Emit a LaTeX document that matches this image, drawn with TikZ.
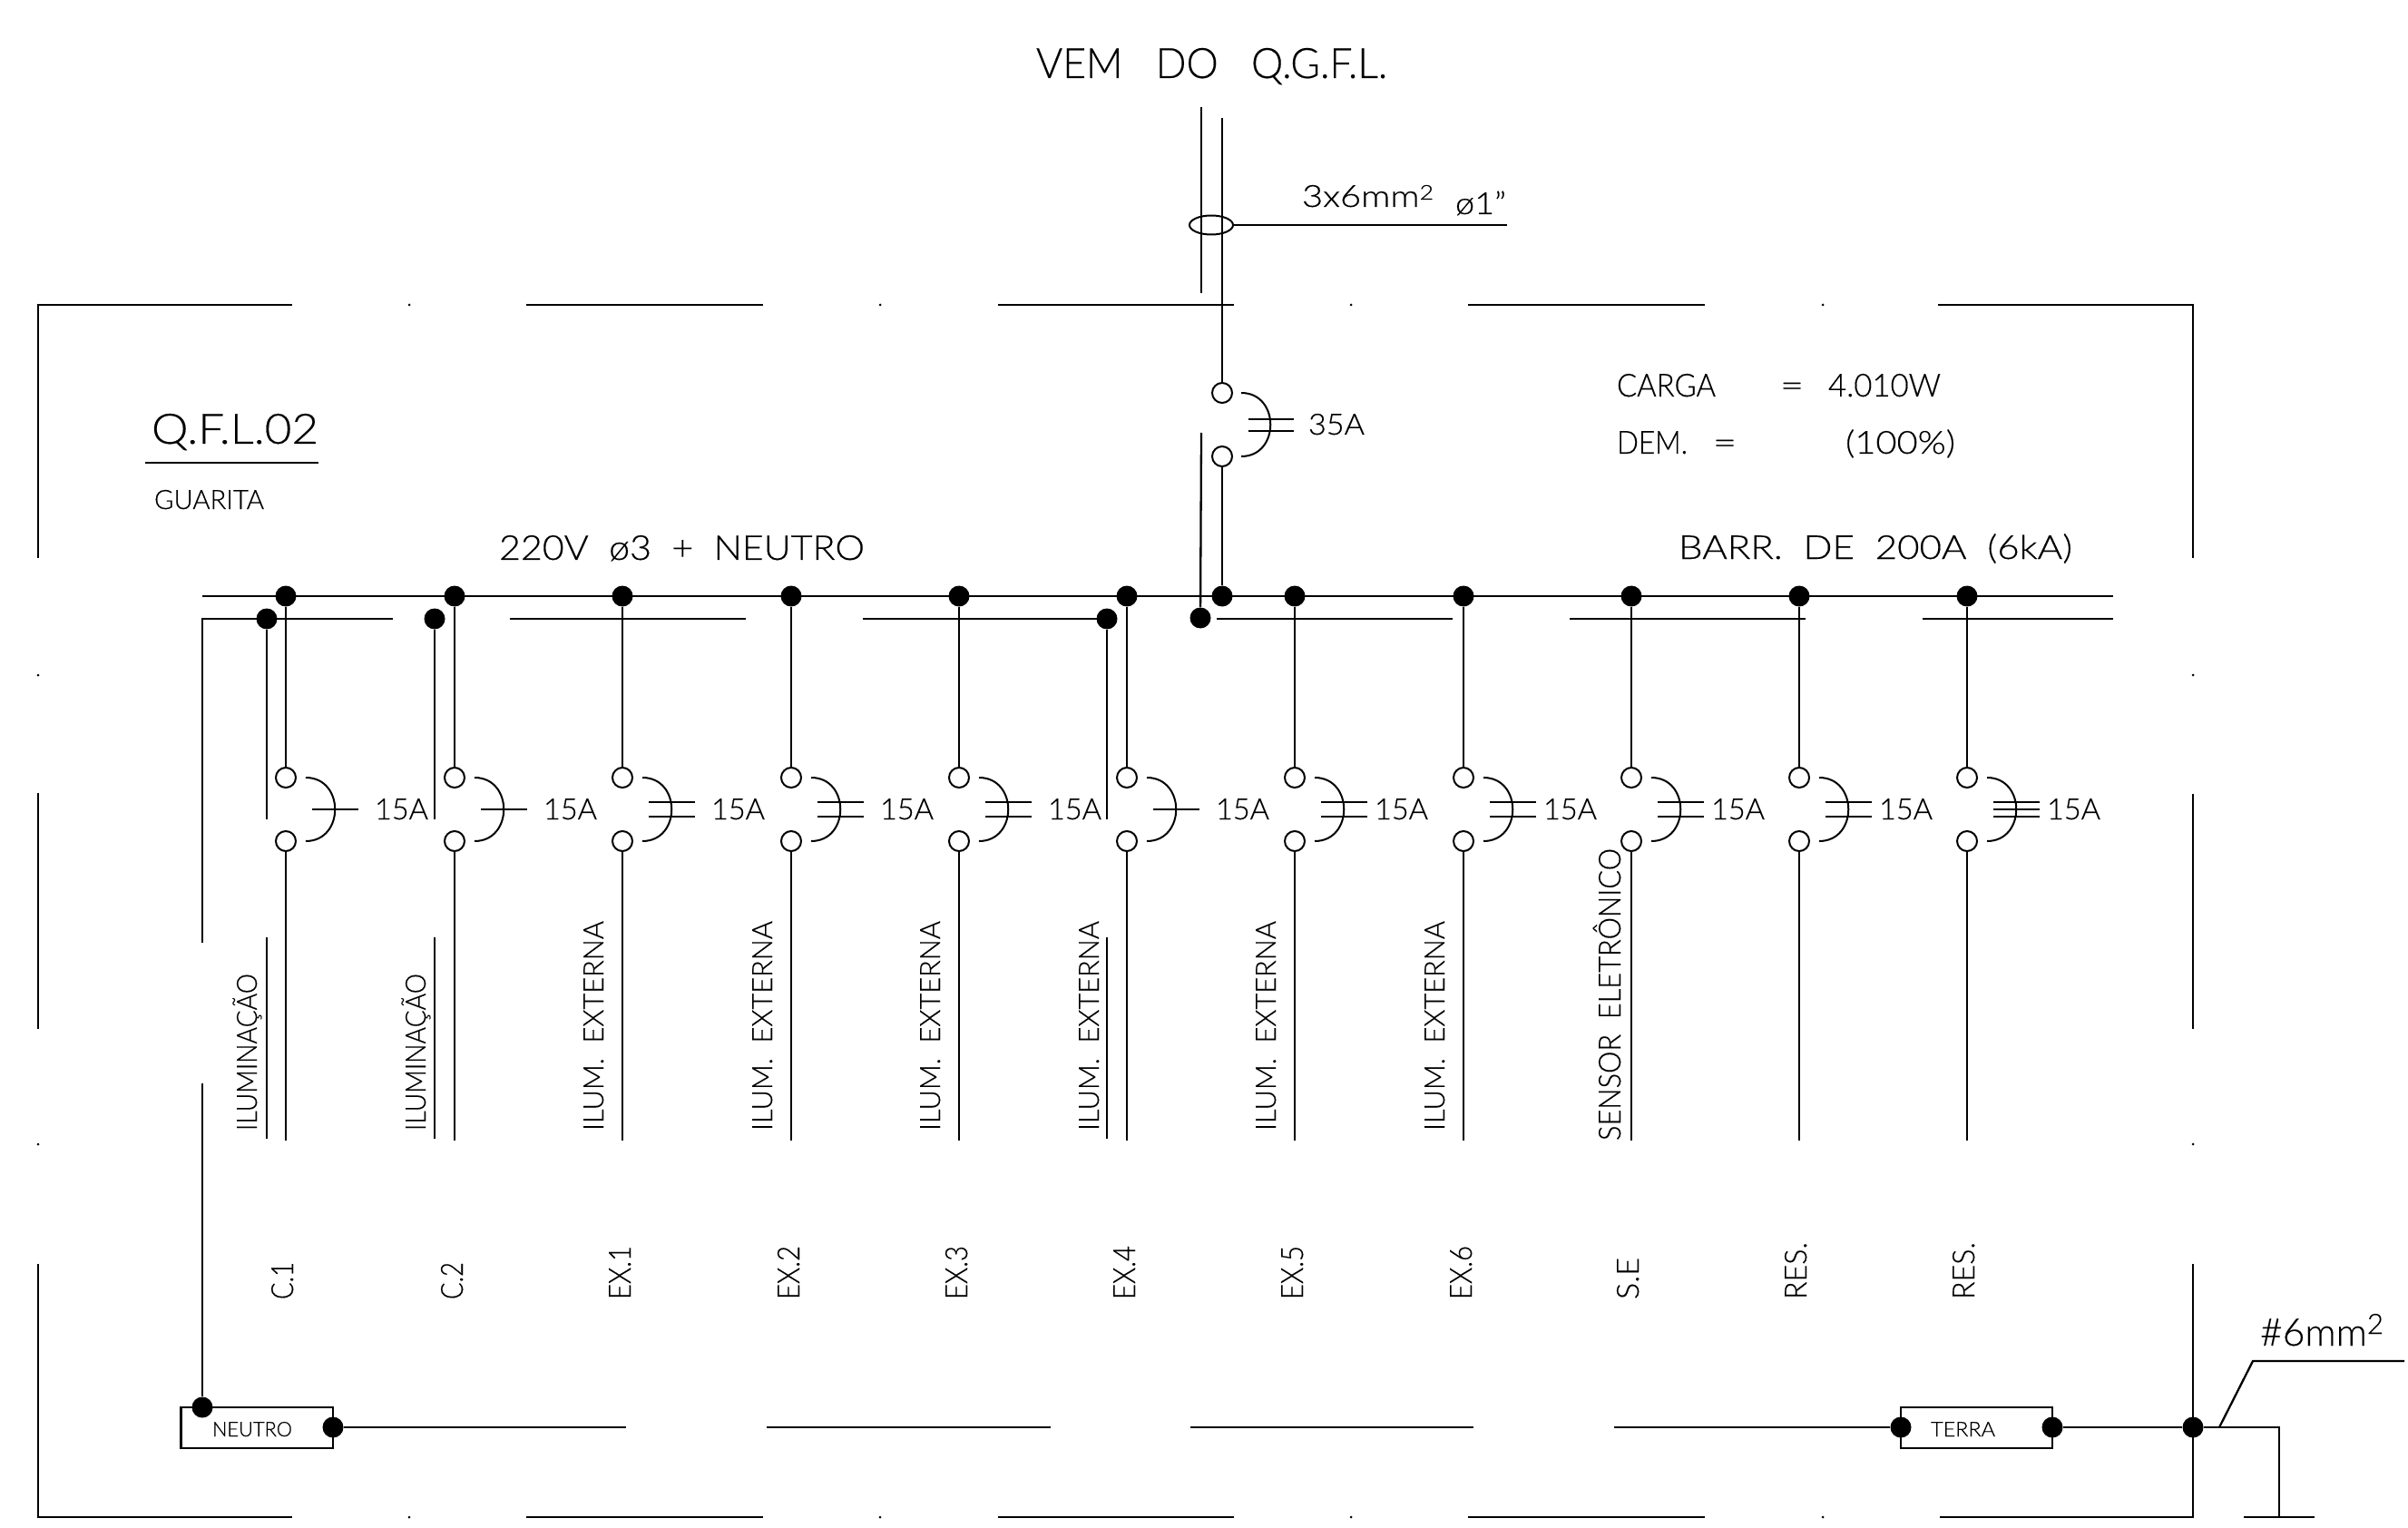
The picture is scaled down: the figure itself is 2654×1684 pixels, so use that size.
\documentclass[tikz,border=0pt]{standalone}
\usepackage{fontspec}
\usepackage{graphicx}
\usetikzlibrary{shapes.geometric}
\setmainfont{Lato Light}[FakeBold=0.35]
\newlength\pxu \setlength\pxu{0.5pt}
\newcommand\fw[3]{\pgfmathsetmacro\fsz{#1*0.70}\fontsize{\fsz}{\fsz}\selectfont\resizebox{#2\pxu}{\height}{#3}}
\newcommand\supr[2]{\raisebox{#2\pxu}{\pgfmathsetmacro\fsy{#1*0.70}\fontsize{\fsy}{\fsy}\selectfont 2}}
\tikzset{
  wire/.style={line width=1.15pt,black,line cap=butt},
  thin wire/.style={line width=1.0pt,black},
  busdot/.style={circle,fill=black,draw=none,inner sep=0pt,minimum size=11.5pt},
  term/.style={circle,draw=black,line width=1.0pt,fill=white,inner sep=0pt,minimum size=11pt},
  lab/.style={anchor=base west,inner sep=0pt,outer sep=0pt},
  vlab/.style={anchor=base west,inner sep=0pt,outer sep=0pt,rotate=90},
  tbox/.style={rectangle,draw=black,line width=1.15pt,inner sep=0pt,minimum width=83.75pt,minimum height=22.5pt},
  tick/.style={circle,fill=black,inner sep=0pt,minimum size=1.5pt}
}
\begin{document}
\begin{tikzpicture}[x=0.5pt,y=-0.5pt]
\useasboundingbox (0,0) rectangle (2654,1684);
% frame
\draw[wire] (322,336) -- (42,336) -- (42,615);
\draw[wire] (42,874) -- (42,1134);
\draw[wire] (42,1393) -- (42,1672) -- (322,1672);
\draw[wire] (2136,336) -- (2417,336) -- (2417,615);
\draw[wire] (2417,875) -- (2417,1134);
\draw[wire] (2417,1393) -- (2417,1672) -- (2138,1672);
\foreach \a/\b in {580/841,1100/1360,1618/1879}{
  \draw[wire] (\a,336) -- (\b,336);
  \draw[wire] (\a,1672) -- (\b,1672);
}
\foreach \i/\p in {1/451,2/970,3/1489,4/2009}{
  \node[tick] (ft\i) at (\p,336) {};
  \node[tick] (fb\i) at (\p,1672) {};
}
\node[tick] (fl1) at (42,744) {}; \node[tick] (fl2) at (42,1261) {};
\node[tick] (fr1) at (2417,744) {}; \node[tick] (fr2) at (2417,1261) {};
% busbars
\coordinate (pL) at (223,657); \coordinate (pR) at (2329,657);
\draw[wire] (pL) -- (pR);
\draw[wire] (433,682) -- (223,682) -- (223,1039);
\foreach \a/\b in {562/822,951/1220,1341/1601,1730/1990,2119/2329}{
  \draw[wire] (\a,682) -- (\b,682);
}
% branch breakers
\foreach \n/\x in {1/315,2/501,3/686,4/872,5/1057,6/1242,7/1427,8/1613,9/1798,10/1983,11/2168}{
  \node[busdot] (bus\n) at (\x,657) {};
  \node[term] (t\n) at (\x,857) {};
  \node[term] (b\n) at (\x,927) {};
  \coordinate (e\n) at (\x,1257);
  \draw[wire] (bus\n) -- (t\n);
  \draw[wire] (b\n) -- (e\n);
  \draw[thin wire] (\x+22,857) .. controls (\x+65,857) and (\x+65,927) .. (\x+22,927);
}
\foreach \x in {315,501,1242}{\draw[thin wire] (\x+29,892) -- (\x+80,892);}
\foreach \x in {686,872,1057,1427,1613,1798,1983,2168}{
  \draw[thin wire] (\x+29,884) -- (\x+80,884);
  \draw[thin wire] (\x+29,900) -- (\x+80,900);
}
\draw[thin wire] (2197,892) -- (2248,892);
% 15A
\foreach \x in {315,501,686,872,1057,1242}{\node[lab] at (\x+98,903) {\fw{23}{59}{15A}};}
\foreach \x in {1427,1613,1798,1983,2168}{\node[lab] at (\x+88,903) {\fw{23}{59}{15A}};}
% neutral branches
\foreach \n/\x in {n1/294,n2/479,n4/1220}{
  \node[busdot] (\n) at (\x,682) {};
  \coordinate (\n a) at (\x,903);
  \coordinate (\n b) at (\x,1033);
  \coordinate (\n c) at (\x,1255);
  \draw[wire] (\n) -- (\n a);
  \draw[wire] (\n b) -- (\n c);
}
% main breaker and feeder
\node[busdot] (mainbus) at (1347,657) {};
\node[busdot] (mainN) at (1323,681) {};
\node[term] (mt) at (1347,433) {};
\node[term] (mb) at (1347,503) {};
\coordinate (f1) at (1347,130); \coordinate (f2) at (1324,118);
\coordinate (f3) at (1324,323); \coordinate (f4) at (1324,477);
\draw[wire] (f1) -- (mt);
\draw[wire] (mb) -- (mainbus);
\draw[wire] (f2) -- (f3);
\draw[wire] (f4) -- (mainN);
\draw[thin wire] (1368,433) .. controls (1411,433) and (1411,503) .. (1368,503);
\draw[thin wire] (1376,462) -- (1426,462);
\draw[thin wire] (1376,475) -- (1426,475);
\node[lab] (t35) at (1442,479) {\fw{23}{62}{35A}};
\node[draw=black,line width=1pt,ellipse,inner sep=0pt,minimum width=24pt,minimum height=10.5pt] (cable) at (1335,248) {};
\coordinate (cableend) at (1661,248);
\draw[wire] (cable) -- (cableend);
% texts
\node[lab] at (1142,86) {\fw{33}{387}{VEM\ \ \ DO\ \ \ Q.G.F.L.}};
\node[lab] at (1435,228) {\fw{24}{145}{3x6mm\supr{16}{8}}};
\node[lab] at (1604,236) {\fw{24}{56}{ø1”}};
\node[lab] at (167,489) {\fw{33}{184}{Q.F.L.02}};
\coordinate (ulA) at (160,510); \coordinate (ulB) at (351,510);
\draw[wire] (ulA) -- (ulB);
\node[lab] at (170,561) {\fw{21}{121}{GUARITA}};
\node[lab] at (550,617) {\fw{27}{403}{220V\ \ ø3\ \ +\ \ NEUTRO}};
\node[lab] at (1850,616) {\fw{26}{434}{BARR.\ \ DE\ \ 200A\ \ (6kA)}};
\node[lab] at (1782,437) {\fw{25}{109}{CARGA}};
\node[lab] at (1962,437) {\fw{25}{26}{=}};
\node[lab] at (2015,437) {\fw{25}{124}{4.010W}};
\node[lab] at (1782,500) {\fw{25}{78}{DEM.}};
\node[lab] at (1888,500) {\fw{25}{26}{=}};
\node[lab] at (2034,500) {\fw{25}{121}{(100\%)}};
% vertical circuit descriptions
\foreach \x in {283,469}{\node[vlab] at (\x,1246) {\fw{22}{173}{ILUMINAÇÃO}};}
\foreach \x in {665,851,1036,1211,1406,1592}{\node[vlab] at (\x,1246) {\fw{22}{231}{ILUM.\ \ EXTERNA}};}
\node[vlab] at (1786,1257) {\fw{24}{322}{SENSOR\ \ ELETRÔNICO}};
% circuit numbers
\foreach \x/\t/\w in {323/C.1/41,510/C.2/41,695/EX.1/59,881/EX.2/59,1066/EX.3/59,1251/EX.4/59,1436/EX.5/59,1622/EX.6/59,1806/S.E/46,1991/RES./63,2176/RES./63}{
  \node[vlab] at (\x,1432) {\fw{24}{\w}{\t}};
}
% neutral and earth bars
\node[tbox] (neutro) at (283.25,1573.5) {};
\node[tbox] (terra) at (2178.5,1573.5) {};
\node[lab] at (234,1583) {\fw{16}{88}{NEUTRO}};
\node[lab] at (2128,1583) {\fw{16}{71}{TERRA}};
\node[busdot] (nd1) at (223,1551) {};
\node[busdot] (nd2) at (367,1573) {};
\node[busdot] (td1) at (2095,1573) {};
\node[busdot] (td2) at (2262,1573) {};
\node[busdot] (td3) at (2417,1573) {};
\coordinate (nv) at (223,1194);
\draw[wire] (nv) -- (nd1);
\coordinate (g1) at (690,1573);
\draw[wire] (nd2) -- (g1);
\foreach \a/\b in {845/1158,1312/1624}{\draw[wire] (\a,1573) -- (\b,1573);}
\coordinate (g2) at (1779,1573);
\draw[wire] (g2) -- (td1);
\draw[wire] (td2) -- (td3);
\coordinate (gc) at (2512,1573); \coordinate (gd) at (2512,1672);
\draw[wire] (td3) -- (gc) -- (gd);
\coordinate (groundL) at (2473,1672); \coordinate (groundR) at (2551,1672);
\draw[wire] (groundL) -- (groundR);
\coordinate (la) at (2446,1573); \coordinate (lb) at (2483,1500); \coordinate (lc) at (2650,1500);
\draw[wire] (la) -- (lb) -- (lc);
\node[lab] at (2491,1483) {\fw{30}{136}{\#6mm\supr{22}{13}}};
\end{tikzpicture}
\end{document}
